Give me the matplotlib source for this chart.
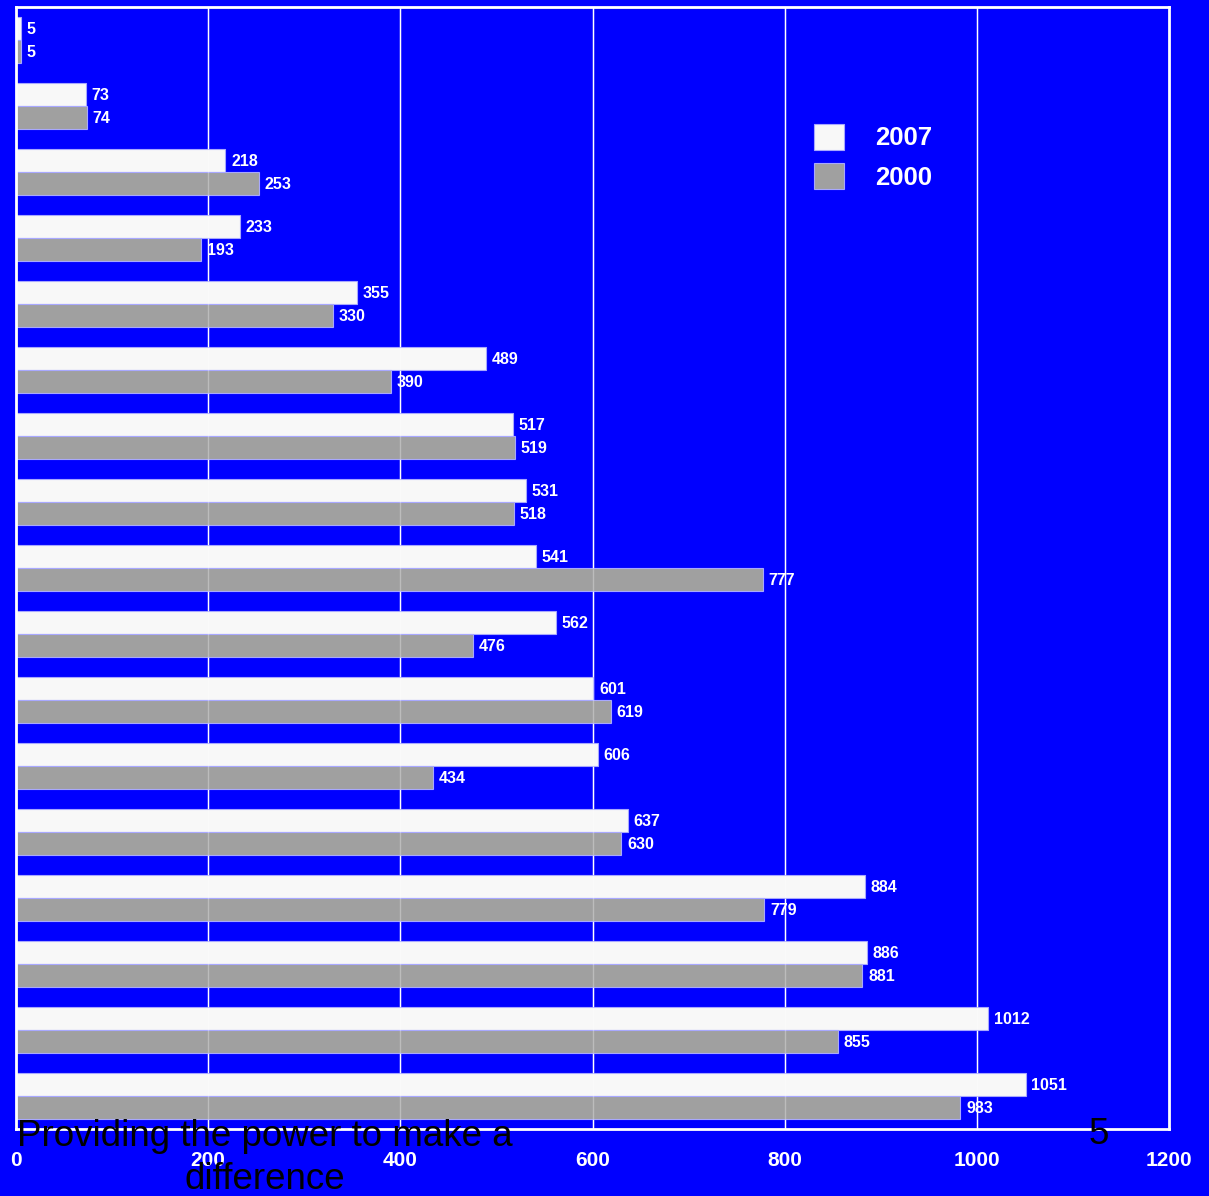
import matplotlib.pyplot as plt
import numpy as np

plt.rcParams['font.family'] = ['Liberation Sans', 'DejaVu Sans']

vals_2007 = [5, 73, 218, 233, 355, 489, 517, 531, 541, 562, 601, 606, 637, 884, 886, 1012, 1051]
vals_2000 = [5, 74, 253, 193, 330, 390, 519, 518, 777, 476, 619, 434, 630, 779, 881, 855, 983]
xticks = [0, 200, 400, 600, 800, 1000, 1200]

blue = '#0000ff'
fig = plt.figure(figsize=(12.09, 11.96), dpi=100, facecolor=blue)
ax = fig.add_axes([16 / 1209, 1 - 1129 / 1196, 1153 / 1209, 1122 / 1196])
ax.set_facecolor(blue)

y = np.arange(len(vals_2007))
h = 0.35
b1 = ax.barh(y - h / 2, vals_2007, height=h, color='#f8f8f8', edgecolor='#a8a8ff',
             linewidth=0.8, label='2007', zorder=2)
b2 = ax.barh(y + h / 2, vals_2000, height=h, color='#a0a0a0', edgecolor='#a8a8ff',
             linewidth=0.8, label='2000', zorder=2)

for bars, vals in ((b1, vals_2007), (b2, vals_2000)):
    for bar, v in zip(bars, vals):
        ax.annotate(str(v), (v, bar.get_y() + bar.get_height() / 2 + 0.02), xytext=(4, 0),
                    textcoords='offset points', ha='left', va='center',
                    color='white', fontsize=11.5, fontweight='bold', zorder=4)

ax.set_xlim(0, 1200)
ax.set_ylim(len(vals_2007) - 0.5, -0.5)
ax.set_xticks(xticks)
ax.set_xticklabels([str(t) for t in xticks], color='white', fontsize=15, fontweight='bold')
ax.tick_params(axis='x', length=0, pad=16)
ax.set_yticks([])
for t in xticks[1:-1]:
    ax.axvline(t, color='white', linewidth=1, zorder=1)
    ax.axvline(t, color='white', linewidth=1, alpha=0.3, zorder=3)
for s in ax.spines.values():
    s.set_color('white')
    s.set_linewidth(2)

leg = ax.legend(loc='upper left', bbox_to_anchor=(0.692, 0.896), frameon=False,
                borderaxespad=0, borderpad=0,
                handlelength=1.17, handleheight=1.17, handletextpad=1.2,
                labelspacing=0.5, prop={'size': 18.5, 'weight': 'bold'})
for txt in leg.get_texts():
    txt.set_color('white')

fig.text(265 / 1209, 1 - 1158 / 1196, 'Providing the power to make a\ndifference',
         ha='center', va='center', fontsize=26.5, color='black', linespacing=1.27)
fig.text(1099 / 1209, 1 - 1135 / 1196, '5', ha='center', va='center',
         fontsize=26.5, color='black')

fig.savefig('out.png', dpi=100, facecolor=blue)
